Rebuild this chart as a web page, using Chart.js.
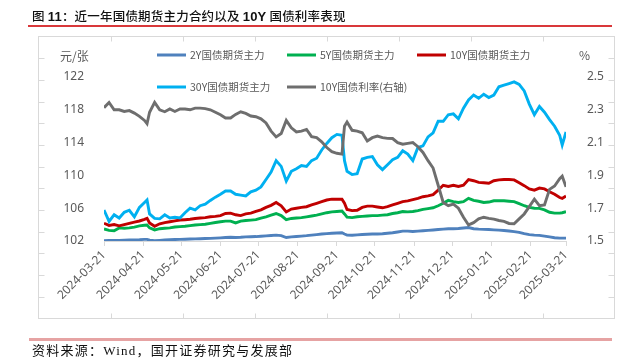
<!DOCTYPE html>
<html><head><meta charset="utf-8">
<script src="https://cdn.jsdelivr.net/npm/chart.js@4.4.1/dist/chart.umd.min.js"></script>
<style>
html,body{margin:0;padding:0;background:#fff;}
#wrap{position:relative;width:637px;height:358px;overflow:hidden;background:#fff;}
#c{position:absolute;left:0;top:0;}
#title{position:absolute;left:32px;top:6px;font-family:"Noto Sans CJK SC";font-size:12.5px;color:#111;font-weight:500;white-space:nowrap;letter-spacing:0.2px;}
#title b{font-family:"Liberation Sans",Arial,sans-serif;font-weight:bold;font-size:13px;}
#topline{position:absolute;left:28px;top:25px;width:584px;height:1.5px;background:#d9383a;}
#botline{position:absolute;left:29px;top:338px;width:583px;height:2.5px;background:#e6a3a3;}
#source{position:absolute;left:32px;top:340px;font-family:"Liberation Serif","Noto Sans CJK SC",serif;font-size:13px;color:#111;white-space:nowrap;letter-spacing:1.25px;}
</style></head><body>
<div id="wrap">
<canvas id="c" width="637" height="358"></canvas>
<div id="title">图 <b>11</b>：近一年国债期货主力合约以及 <b>10Y</b> 国债利率表现</div>
<div id="topline"></div>
<div id="botline"></div>
<div id="source">资料来源：Wind，国开证券研究与发展部</div>
</div>
<script>
const dates = [
'2024-03-21','2024-03-25','2024-03-29','2024-04-02','2024-04-06','2024-04-10','2024-04-14','2024-04-18','2024-04-22','2024-04-24','2024-04-26','2024-04-30',
'2024-05-04','2024-05-08','2024-05-12','2024-05-16','2024-05-20','2024-05-24','2024-05-28',
'2024-06-01','2024-06-05','2024-06-09','2024-06-13','2024-06-17','2024-06-21','2024-06-25','2024-06-29',
'2024-07-03','2024-07-07','2024-07-11','2024-07-15','2024-07-19','2024-07-23','2024-07-27','2024-07-31',
'2024-08-04','2024-08-08','2024-08-12','2024-08-16','2024-08-20','2024-08-24','2024-08-28',
'2024-09-01','2024-09-05','2024-09-09','2024-09-13','2024-09-17','2024-09-21','2024-09-25','2024-09-27','2024-09-29',
'2024-10-03','2024-10-07','2024-10-11','2024-10-15','2024-10-19','2024-10-23','2024-10-27','2024-10-31',
'2024-11-04','2024-11-08','2024-11-12','2024-11-16','2024-11-20','2024-11-24','2024-11-28',
'2024-12-02','2024-12-06','2024-12-10','2024-12-14','2024-12-18','2024-12-22','2024-12-26','2024-12-30',
'2025-01-03','2025-01-07','2025-01-11','2025-01-15','2025-01-19','2025-01-23','2025-01-27','2025-01-31',
'2025-02-04','2025-02-08','2025-02-12','2025-02-16','2025-02-20','2025-02-24','2025-02-28',
'2025-03-04','2025-03-08','2025-03-12','2025-03-16','2025-03-18','2025-03-21'
];
const fut2Y = [
102.04,102.06,102.08,102.08,102.1,102.12,102.14,102.16,102.2,102.2,102.1,102.04,
102.08,102.12,102.15,102.18,102.2,102.22,102.24,
102.26,102.28,102.3,102.32,102.35,102.38,102.42,102.45,
102.42,102.45,102.5,102.52,102.54,102.58,102.62,102.67,
102.72,102.65,102.42,102.5,102.55,102.6,102.65,
102.72,102.78,102.85,102.9,102.95,102.98,103.0,102.85,102.72,
102.7,102.75,102.8,102.82,102.85,102.85,102.88,102.95,
103.0,103.1,103.2,103.2,103.15,103.2,103.25,
103.3,103.35,103.4,103.45,103.5,103.5,103.52,103.58,
103.65,103.5,103.45,103.42,103.4,103.36,103.32,103.28,
103.22,103.15,103.05,102.9,102.78,102.72,102.68,
102.6,102.5,102.4,102.35,102.35,102.35
];
const fut5Y = [
103.46,103.3,103.25,103.6,103.55,103.6,103.7,103.85,103.92,103.95,103.6,103.35,
103.5,103.55,103.6,103.7,103.75,103.8,103.88,
103.95,104.0,104.05,104.15,104.25,104.35,104.42,104.42,
104.2,104.42,104.5,104.55,104.6,104.8,104.95,105.15,
105.35,105.1,104.6,104.75,104.8,104.85,104.95,
105.05,105.15,105.3,105.45,105.55,105.6,105.65,105.3,104.9,
104.85,104.95,105.0,105.05,105.1,105.1,105.15,105.2,
105.35,105.45,105.6,105.55,105.6,105.7,105.85,
105.95,106.05,106.3,106.6,106.95,106.8,106.7,106.8,
107.2,106.95,106.85,106.7,106.75,106.9,106.9,106.9,
106.85,106.8,106.55,106.3,106.1,106.0,105.98,
105.8,105.5,105.4,105.4,105.45,105.57
];
const fut10Y = [
104.16,103.9,104.0,103.85,104.0,104.15,104.3,104.44,104.65,104.77,104.2,103.8,
104.1,104.25,104.35,104.45,104.56,104.6,104.65,
104.75,104.8,104.85,104.95,105.0,105.1,105.35,105.4,
105.2,105.1,105.3,105.4,105.6,105.8,106.1,106.35,
106.7,106.3,105.55,105.9,106.0,106.1,106.18,
106.4,106.6,106.8,107.0,107.1,107.1,107.1,106.6,105.85,
105.7,105.75,106.1,106.25,106.25,106.15,106.05,106.2,
106.4,106.6,106.8,106.9,107.05,107.2,107.4,
107.5,107.65,108.2,108.8,108.65,108.8,108.65,108.8,
109.5,109.35,109.15,109.1,109.05,109.35,109.45,109.5,
109.5,109.45,109.1,108.75,108.35,108.2,108.45,
108.35,108.0,107.7,107.3,107.2,107.5
];
const fut30Y = [
105.78,104.4,105.2,104.8,105.5,105.75,104.95,106.1,106.7,107.0,105.3,104.75,
104.7,105.2,104.8,104.9,104.8,105.45,106.0,
105.8,106.3,106.5,106.95,107.35,107.7,108.1,108.1,
107.7,107.6,107.5,108.0,108.2,108.6,109.5,110.4,
111.8,111.1,109.3,110.5,110.8,111.2,111.1,
111.8,112.1,113.1,113.9,114.6,115.0,114.9,111.8,110.5,
110.1,110.2,112.0,112.2,112.3,111.3,110.7,111.3,
111.9,112.2,113.0,112.6,111.8,113.4,113.6,
114.7,115.2,116.6,116.6,117.4,117.5,116.9,118.2,
119.2,119.8,119.4,119.9,119.5,119.8,120.8,121.0,
121.2,121.4,121.1,120.3,118.7,117.4,118.4,
117.7,116.8,116.0,114.9,113.7,115.3
];
const yield10Y = [
2.313,2.345,2.30,2.30,2.29,2.295,2.28,2.26,2.235,2.215,2.285,2.345,
2.30,2.288,2.305,2.29,2.305,2.305,2.30,
2.31,2.31,2.307,2.30,2.285,2.27,2.25,2.25,
2.272,2.288,2.278,2.262,2.258,2.245,2.22,2.17,
2.135,2.155,2.235,2.19,2.165,2.17,2.18,
2.136,2.13,2.105,2.07,2.045,2.035,2.03,2.20,2.225,
2.175,2.17,2.16,2.11,2.13,2.14,2.13,2.126,
2.125,2.10,2.09,2.095,2.10,2.075,2.04,
1.99,1.945,1.84,1.735,1.715,1.725,1.70,1.645,
1.598,1.612,1.635,1.645,1.638,1.633,1.625,1.62,
1.607,1.605,1.635,1.665,1.71,1.755,1.715,
1.72,1.815,1.835,1.88,1.895,1.83
];
const tickLabels = ['2024-03-21','2024-04-21','2024-05-21','2024-06-21','2024-07-21','2024-08-21','2024-09-21','2024-10-21','2024-11-21','2024-12-21','2025-01-21','2025-02-21','2025-03-21'];
const seriesNames = ['2Y国债期货主力','5Y国债期货主力','10Y国债期货主力','30Y国债期货主力','10Y国债利率(右轴)'];
const leftRange = [102, 122, 4];
const rightRange = [1.5, 2.5, 0.2];

const base = Date.UTC(2024, 2, 21);
function dayOf(s){ const p = s.split('-').map(Number); return (Date.UTC(p[0], p[1]-1, p[2]) - base) / 86400000; }
function pts(arr){ return dates.map((d,i)=>({x: dayOf(d), y: arr[i]})); }

const TXT = '#595959';
const decor = {
  id:'decor',
  beforeDraw(chart){
    const ctx = chart.ctx;
    ctx.save();
    ctx.strokeStyle = '#d9d9d9'; ctx.lineWidth = 1;
    const L=38.5, R=614.5, T=36.5, B=318.5;
    ctx.strokeRect(L, T, R-L, B-T);
    ctx.beginPath();
    for(let i=1;i<8;i++){ const x = Math.round(L + (R-L)*i/8)+0.5; ctx.moveTo(x,T); ctx.lineTo(x,T+5); ctx.moveTo(x,B); ctx.lineTo(x,B-5); }
    for(let j=1;j<13;j++){ const y = Math.round(T + (B-T)*j/13)+0.5; ctx.moveTo(L,y); ctx.lineTo(L+6,y); ctx.moveTo(R,y); ctx.lineTo(R-6,y); }
    ctx.stroke();
    ctx.restore();
  },
  afterDraw(chart){
    const ctx = chart.ctx;
    ctx.save();
    ctx.font = '12px "Noto Sans CJK SC"';
    ctx.fillStyle = TXT; ctx.textBaseline = 'middle'; ctx.textAlign = 'left';
    ctx.fillText('元/张', 60, 56);
    ctx.fillText('%', 579, 55);
    const slots = [[157,55],[287,55],[417,55],[157,87],[287,87]];
    ctx.font = '10.5px "Noto Sans CJK SC"';
    chart.data.datasets.forEach((ds,i)=>{
      const [x,y] = slots[i];
      ctx.strokeStyle = ds.borderColor; ctx.lineWidth = 3; ctx.lineCap = 'butt';
      ctx.beginPath(); ctx.moveTo(x, y); ctx.lineTo(x+29, y); ctx.stroke();
      ctx.fillStyle = TXT;
      ctx.fillText(ds.label, x+33, y);
    });
    ctx.restore();
  }
};

const mk = (label, arr, color, axis, order) => ({label, data: pts(arr), borderColor: color, backgroundColor: color, borderWidth: 2.9, pointRadius: 0, tension: 0, yAxisID: axis, order});

new Chart(document.getElementById('c'), {
  type: 'line',
  data: { datasets: [
    mk(seriesNames[0], fut2Y, '#4f81bd', 'y', 5),
    mk(seriesNames[1], fut5Y, '#00b050', 'y', 4),
    mk(seriesNames[2], fut10Y, '#c00000', 'y', 3),
    mk(seriesNames[3], fut30Y, '#00b0f0', 'y', 2),
    mk(seriesNames[4], yield10Y, '#6e6e6e', 'y2', 1)
  ]},
  options: {
    responsive: false, animation: false, devicePixelRatio: 1,
    layout: { padding: { top: 77, left: 0, right: 0, bottom: 0 } },
    plugins: { legend: { display: false }, tooltip: { enabled: false } },
    scales: {
      x: {
        type: 'linear', min: dayOf(tickLabels[0]), max: dayOf(tickLabels[tickLabels.length-1]),
        afterBuildTicks: (s) => { s.ticks = tickLabels.map(t => ({ value: dayOf(t) })); },
        afterFit: (s) => { s.height = 117; },
        ticks: { autoSkip: false, minRotation: 45, maxRotation: 45, color: TXT, font: { family: '"Noto Sans", sans-serif', size: 12 }, padding: 2,
          callback: (v, i) => tickLabels[i] },
        grid: { drawOnChartArea: false, drawTicks: true, tickLength: 5, color: '#d9d9d9' },
        border: { display: true, color: '#d9d9d9' }
      },
      y: {
        position: 'left', min: leftRange[0], max: leftRange[1],
        afterFit: (s) => { s.width = 104; },
        ticks: { stepSize: leftRange[2], color: TXT, font: { family: '"Noto Sans", sans-serif', size: 12 }, padding: 12 },
        grid: { display: false }, border: { display: false }
      },
      y2: {
        position: 'right', min: rightRange[0], max: rightRange[1],
        afterFit: (s) => { s.width = 71; },
        ticks: { stepSize: rightRange[2], color: TXT, font: { family: '"Noto Sans", sans-serif', size: 12 }, padding: 13, callback: v => v.toFixed(1) },
        grid: { display: false }, border: { display: false }
      }
    }
  },
  plugins: [decor]
});
</script>
</body></html>
